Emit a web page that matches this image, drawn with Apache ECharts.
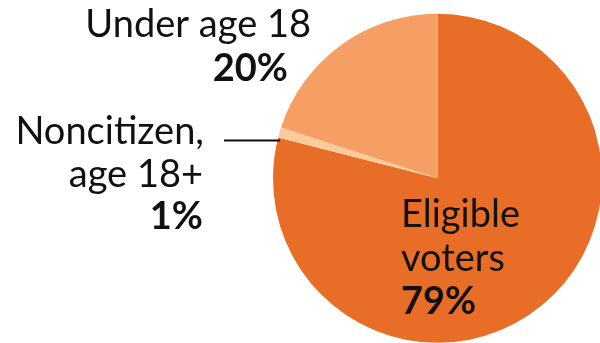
<!DOCTYPE html>
<html>
<head>
<meta charset="utf-8">
<script src="https://cdn.jsdelivr.net/npm/echarts@6/dist/echarts.min.js"></script>
<style>
html,body{margin:0;padding:0;background:#fff;}
#chart{width:600px;height:343px;}
</style>
</head>
<body>
<div id="chart"></div>
<script>
const categories = ['Eligible voters', 'Noncitizen, age 18+', 'Under age 18'];
const values = [79, 1, 20];
const colors = ['#E86E27', '#FCCB9C', '#F69F65'];
const labelLines = [['Eligible', 'voters'], ['Noncitizen,', 'age 18+'], ['Under age 18']];
const pctLabels = ['79%', '1%', '20%'];

const chart = echarts.init(document.getElementById('chart'), null, {renderer: 'canvas'});
const FONT = 'Lato, "Noto Sans", sans-serif';
const FS = 38;

function txt(x, y, text, align, bold) {
  return {
    type: 'text', x: x, y: y, z: 10,
    style: {
      text: text, fill: '#111', align: align, verticalAlign: 'middle',
      font: (bold ? 'bold ' : 'normal ') + FS + 'px ' + FONT
    }
  };
}

const graphics = [
  // Under age 18
  txt(311, 25, labelLines[2][0], 'right', false),
  txt(288, 69, pctLabels[2], 'right', true),
  // Noncitizen
  txt(204, 132, labelLines[1][0], 'right', false),
  txt(203, 175, labelLines[1][1], 'right', false),
  txt(203, 217, pctLabels[1], 'right', true),
  // Eligible
  txt(401, 215, labelLines[0][0], 'left', false),
  txt(401, 259, labelLines[0][1], 'left', false),
  txt(401, 302, pctLabels[0], 'left', true),
  // leader line
  {type: 'line', z: 10, shape: {x1: 224, y1: 140.5, x2: 280, y2: 140.5}, style: {stroke: '#111', lineWidth: 2}}
];

chart.setOption({
  animation: false,
  backgroundColor: '#fff',
  series: [{
    type: 'pie',
    center: [437.5, 178.3],
    radius: [0, 164.5],
    startAngle: 90,
    clockwise: true,
    label: {show: false},
    labelLine: {show: false},
    itemStyle: {borderWidth: 0},
    emphasis: {disabled: true},
    data: categories.map((c, i) => ({name: c, value: values[i], itemStyle: {color: colors[i]}}))
  }],
  graphic: graphics
});
</script>
</body>
</html>
